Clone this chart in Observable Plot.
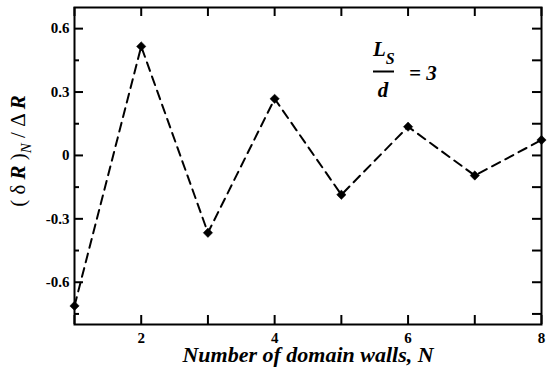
<!DOCTYPE html>
<html><head><meta charset="utf-8">
<script src="https://cdn.jsdelivr.net/npm/d3@7"></script>
<script src="https://cdn.jsdelivr.net/npm/@observablehq/plot@0.6"></script>
<style>body{margin:0;background:#fff} svg{display:block}</style>
</head><body><div id="chart"></div>
<script>
const wallsN = [1, 2, 3, 4, 5, 6, 7, 8];
const deltaR = [-0.712, 0.516, -0.366, 0.268, -0.186, 0.136, -0.095, 0.073];
const xTickLabels = [2, 4, 6, 8];
const xAllTicks = [1, 2, 3, 4, 5, 6, 7, 8];
const yTickLabels = [-0.6, -0.3, 0, 0.3, 0.6];
const yMinorTicks = [-0.75, -0.45, -0.15, 0.15, 0.45];
const yAllTicks = [-0.75, -0.6, -0.45, -0.3, -0.15, 0, 0.15, 0.3, 0.45, 0.6];
const xLabel = "Number of domain walls, N";

const data = wallsN.map((n, i) => ({n, v: deltaR[i]}));
const serif = "Liberation Serif, Times New Roman, DejaVu Serif, serif";

const W = 548, H = 369, ML = 74, MR = 7, MT = 7, MB = 45;
const FW = W - ML - MR, FH = H - MT - MB;
const major = 9, minor = 5;
const tickStyle = {stroke: "black", strokeWidth: 2};

const plot = Plot.plot({
  width: W, height: H,
  marginLeft: ML, marginRight: MR, marginTop: MT, marginBottom: MB,
  style: {fontFamily: serif, background: "white", color: "black", overflow: "visible"},
  x: {domain: [1, 8], axis: null},
  y: {domain: [-0.8, 0.7], axis: null},
  marks: [
    // inward ticks on all four sides
    Plot.tickX(xAllTicks, {x: d => d, insetTop: FH - major, ...tickStyle}),
    Plot.tickX(xAllTicks, {x: d => d, insetBottom: FH - major, ...tickStyle}),
    Plot.tickY(yTickLabels, {y: d => d, insetRight: FW - major, ...tickStyle}),
    Plot.tickY(yMinorTicks, {y: d => d, insetRight: FW - minor, ...tickStyle}),
    Plot.tickY(yAllTicks, {y: d => d, insetLeft: FW - major, ...tickStyle}),
    // tick labels
    Plot.text(xTickLabels, {x: d => d, text: d => String(d), frameAnchor: "bottom", lineAnchor: "top", dy: 8, fontSize: 15, fontWeight: "bold"}),
    Plot.text(yTickLabels, {y: d => d, text: d => String(d), frameAnchor: "left", textAnchor: "end", lineAnchor: "middle", dx: -5, fontSize: 15, fontWeight: "bold"}),
    Plot.frame({strokeWidth: 2}),
    Plot.line(data, {x: "n", y: "v", stroke: "black", strokeWidth: 2, strokeDasharray: "9,6"}),
    Plot.dot(data, {x: "n", y: "v", symbol: "diamond2", r: 4.2, fill: "black", stroke: "black", strokeWidth: 0.5}),
    Plot.text([xLabel], {frameAnchor: "bottom", dy: 30, fontSize: 22, fontWeight: "bold", fontStyle: "italic", lineAnchor: "middle"})
  ]
});
document.getElementById("chart").appendChild(plot);

const svg = d3.select(plot);

// y-axis label with rich text
const yl = svg.append("text")
  .attr("transform", "translate(25,151) rotate(-90)")
  .attr("text-anchor", "middle")
  .attr("font-family", serif)
  .attr("font-size", 21)
  .attr("fill", "black");
yl.append("tspan").text("( δ ");
yl.append("tspan").attr("font-weight", "bold").attr("font-style", "italic").text("R");
yl.append("tspan").text(" )");
yl.append("tspan").attr("font-style", "italic").attr("font-size", 15).attr("dy", 6).text("N");
yl.append("tspan").attr("dy", -6).text(" / Δ ");
yl.append("tspan").attr("font-weight", "bold").attr("font-style", "italic").text("R");

// annotation L_S / d = 3
const ann = svg.append("g").attr("font-family", serif).attr("font-weight", "bold").attr("font-style", "italic").attr("fill", "black").attr("text-anchor", "start");
const lt = ann.append("text").attr("x", 373).attr("y", 56).attr("font-size", 21);
lt.append("tspan").text("L");
lt.append("tspan").attr("font-size", 16).attr("dy", 8).text("S");
ann.append("line").attr("x1", 373).attr("x2", 394).attr("y1", 71.5).attr("y2", 71.5).attr("stroke", "black").attr("stroke-width", 2);
ann.append("text").attr("x", 383).attr("y", 97).attr("text-anchor", "middle").attr("font-size", 21).text("d");
ann.append("text").attr("x", 409).attr("y", 80).attr("font-size", 21).text("= 3");
</script>
</body></html>
